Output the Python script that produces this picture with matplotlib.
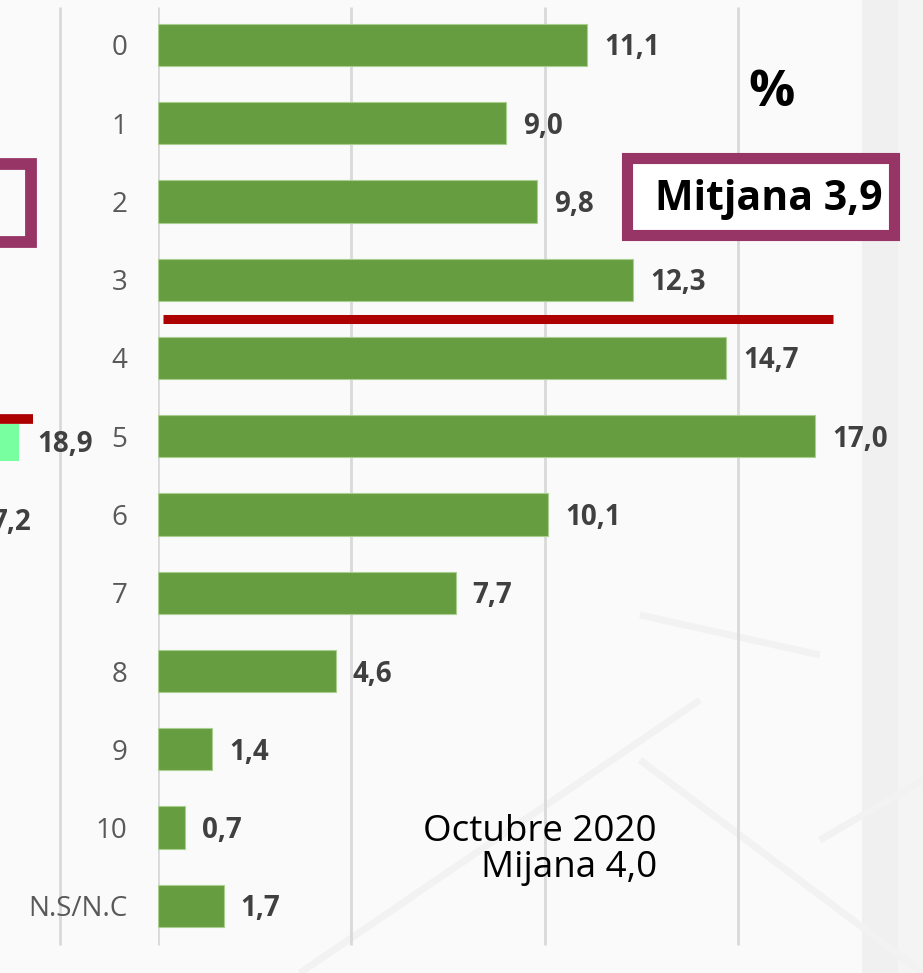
import matplotlib
matplotlib.use("Agg")
import matplotlib.pyplot as plt
from matplotlib.patches import Rectangle

plt.rcParams["font.family"] = ["Open Sans", "DejaVu Sans"]

# ── data ─────────────────────────────────────────────────────────────────────
categories = ["0", "1", "2", "3", "4", "5", "6", "7", "8", "9", "10", "N.S/N.C"]
values = [11.1, 9.0, 9.8, 12.3, 14.7, 17.0, 10.1, 7.7, 4.6, 1.4, 0.7, 1.7]
labels = [f"{v:.1f}".replace(".", ",") for v in values]

mean_pos = 3.5          # red mean line sits between 3 and 4
mean_text = "Mitjana 3,9"
prev_text = "Octubre 2020\nMijana 4,0"

# partial neighbour chart visible on the left edge
left_bar_label = "18,9"
left_next_label = "7,2"

GREEN = "#679D41"
RED = "#AD0000"
PURPLE = "#983567"
GRID = "#d9d9d9"
TXT = "#404040"

# ── figure ───────────────────────────────────────────────────────────────────
W, H = 923, 973
fig = plt.figure(figsize=(W / 100, H / 100), dpi=100, facecolor="#fafafa")

# faint background
bg = fig.add_axes([0, 0, 1, 1], zorder=-5)
bg.set_xlim(0, W); bg.set_ylim(H, 0); bg.axis("off")
bg.add_patch(Rectangle((862, 0), 36, H, color="#f0f0f0", lw=0))
bg.add_patch(Rectangle((898, 0), 25, H, color="#f4f4f4", lw=0))
for (xa, ya, xb, yb) in [(640, 615, 820, 655), (820, 840, 923, 780),
                         (640, 760, 923, 973), (300, 973, 700, 700)]:
    bg.plot([xa, xb], [ya, yb], color="#f2f2f2", lw=5, solid_capstyle="butt")

x0_px = 158
px_per_unit = 38.65
row_px = 78.25
top_px = 45


def dx(px):
    return (px - x0_px) / px_per_unit


def dy(px):
    return (px - top_px) / row_px


ax = fig.add_axes([x0_px / W, 0, 1 - x0_px / W, 1])
ax.patch.set_alpha(0)
ax.set_xlim(0, dx(W))
ax.set_ylim(dy(H), dy(0))
for s in ax.spines.values():
    s.set_visible(False)

ax.vlines([0, 5, 10, 15], dy(945), dy(7), color=GRID, lw=2, zorder=0)
ax.vlines([dx(60)], dy(945), dy(7), color=GRID, lw=2, zorder=0, clip_on=False)

ypos = list(range(len(categories)))
ax.barh(ypos, values, height=0.54, color=GREEN, edgecolor="#a9cf8f", lw=0.8, zorder=2)
for y, v, lab in zip(ypos, values, labels):
    ax.annotate(lab, (v, y), xytext=(17, -3), textcoords="offset pixels",
                va="center", ha="left", fontsize=20, fontweight="bold", color=TXT)

ax.set_xticks([])
ax.set_yticks(ypos, categories)
ax.tick_params(axis="y", length=0, pad=22, labelsize=20, labelcolor="#595959")

# mean line
ax.plot([dx(163), dx(833)], [mean_pos, mean_pos],
        color=RED, lw=6.5, solid_capstyle="butt", zorder=3)

# mean box
bx0, bx1 = dx(627), dx(893.5)
by0, by1 = dy(158.5), dy(235.5)
ax.add_patch(Rectangle((bx0, by0), bx1 - bx0, by1 - by0, facecolor="white",
                       edgecolor=PURPLE, lw=8, zorder=4, clip_on=False))
ax.text(dx(769), dy(200), mean_text, ha="center", va="center",
        fontsize=29.5, fontweight="bold", color="black", zorder=5)

ax.text(dx(772), dy(93), "%", ha="center", va="center",
        fontsize=37, fontweight="bold", color="black")

ax.text(dx(657), dy(850), prev_text, ha="right", va="center", fontsize=26.5,
        color="black", linespacing=1.03, multialignment="right")

# pieces of the neighbour chart on the left
ax.add_patch(Rectangle((dx(-60), dy(164)), dx(31) - dx(-60), dy(242) - dy(164),
                       facecolor="none", edgecolor=PURPLE, lw=8.5,
                       clip_on=False, zorder=4))
ax.plot([dx(0), dx(33)], [dy(419)] * 2, color=RED, lw=7,
        solid_capstyle="butt", clip_on=False, zorder=3)
ax.barh([dy(442)], [dx(19) - dx(0)], left=dx(0), height=dy(460) - dy(423),
        color="#77FFA0", clip_on=False, zorder=2)
ax.text(dx(37), dy(444), left_bar_label, ha="left", va="center",
        fontsize=20, fontweight="bold", color=TXT)
ax.text(dx(31), dy(522), left_next_label, ha="right", va="center",
        fontsize=20, fontweight="bold", color=TXT)

fig.savefig("out.png", dpi=100, facecolor=fig.get_facecolor())
